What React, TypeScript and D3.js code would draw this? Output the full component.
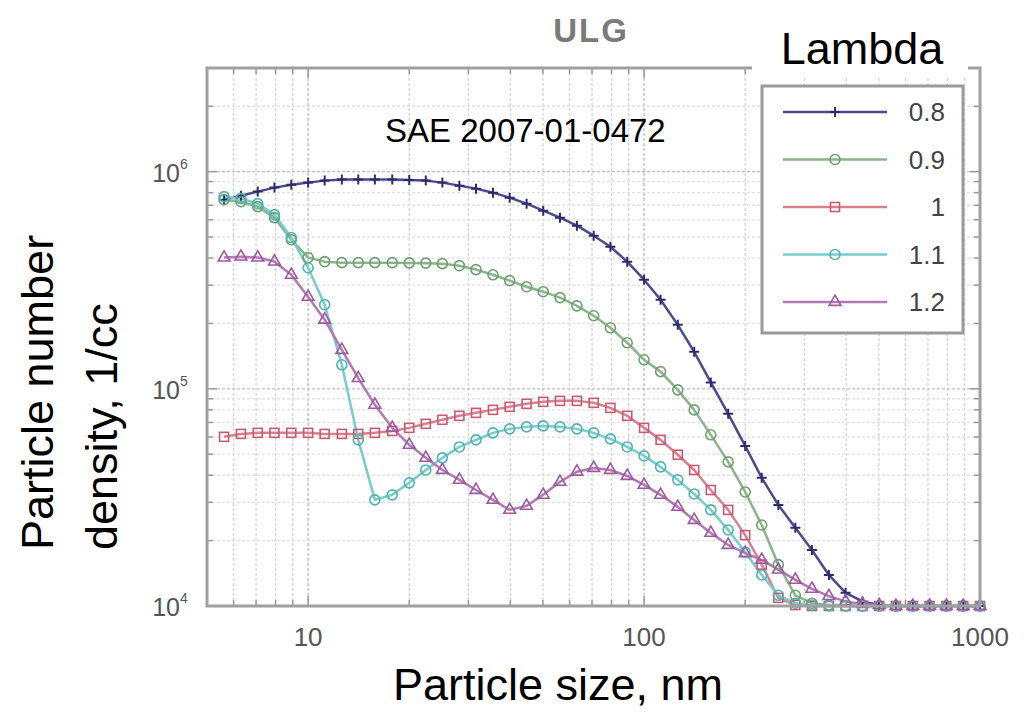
import React from 'react';
import * as d3 from 'd3';

// Particle size (nm)
const sizes = [5.62, 6.31, 7.08, 7.94, 8.91, 10, 11.2, 12.6, 14.1, 15.8, 17.8, 20, 22.4, 25.1, 28.2, 31.6, 35.5, 39.8, 44.7, 50.1, 56.2, 63.1, 70.8, 79.4, 89.1, 100, 112, 126, 141, 158, 178, 200, 224, 251, 282, 316, 355, 398, 447, 501, 562, 631, 708, 794, 891, 1000];

// Particle number density (1/cc) per lambda
const lambda08 = [743000, 775000, 809000, 844000, 871000, 890000, 909000, 919000, 921000, 921000, 919000, 915000, 909000, 890000, 862000, 835000, 800000, 759000, 712000, 661000, 614000, 564000, 507000, 451000, 385000, 318000, 257000, 197000, 148000, 107000, 76700, 54600, 38900, 29200, 22900, 18100, 13900, 11500, 10500, 10100, 10000, 10000, 10000, 10000, 10000, 10000];
const lambda09 = [743000, 727000, 690000, 614000, 486000, 402000, 385000, 381000, 381000, 381000, 381000, 380000, 379000, 377000, 369000, 354000, 335000, 315000, 295000, 280000, 263000, 241000, 217000, 191000, 163000, 136000, 120000, 98900, 80000, 61400, 46100, 33500, 23600, 15500, 11200, 10300, 10100, 10000, 10000, 10000, 10000, 10000, 10000, 10000, 10000, 10000];
const lambda10 = [60100, 62000, 62700, 62700, 62700, 62700, 62000, 62000, 62000, 62700, 64000, 66100, 69000, 72000, 75100, 77500, 80000, 82600, 85300, 87100, 88000, 88000, 86200, 81700, 75100, 66100, 58200, 49700, 42300, 34200, 27700, 21200, 15500, 10900, 10100, 10000, 10000, 10000, 10000, 10000, 10000, 10000, 10000, 10000, 10000, 10000];
const lambda11 = [767000, 751000, 712000, 634000, 497000, 361000, 244000, 129000, 58200, 30800, 32500, 36900, 42300, 48100, 54000, 58200, 62700, 65400, 66800, 67500, 66800, 65400, 62700, 58800, 54000, 49100, 43700, 38100, 32800, 27700, 22400, 17700, 13900, 11200, 10300, 10100, 10000, 10000, 10000, 10000, 10000, 10000, 10000, 10000, 10000, 10000];
const lambda12 = [402000, 406000, 402000, 385000, 335000, 265000, 208000, 151000, 112000, 84400, 66100, 55200, 48100, 42300, 38100, 34200, 30800, 27700, 28900, 32500, 37300, 41500, 43200, 42300, 39700, 36100, 32500, 28600, 24900, 21700, 19100, 17500, 16300, 14700, 13200, 12000, 11100, 10500, 10200, 10100, 10000, 10000, 10000, 10000, 10000, 10000];

const seriesNames = ['0.8', '0.9', '1', '1.1', '1.2'];
const seriesValues = [lambda08, lambda09, lambda10, lambda11, lambda12];
const xTickValues = [10, 100, 1000];
const yTickExponents = [4, 5, 6];

const lineColors = ['#4a4a8c', '#8ab58a', '#d88090', '#78cccc', '#b478b4'];
const markerColors = ['#2c2c6c', '#6f9f70', '#c85a72', '#4fb3b3', '#9c5a9e'];
const markerKinds = ['plus', 'circle', 'square', 'circle', 'triangle'];

const FONT = '"Liberation Sans", Arial, Helvetica, sans-serif';

function Marker({ kind, cx, cy, color }: { kind: string; cx: number; cy: number; color: string }) {
  if (kind === 'plus') {
    return (
      <path d={`M${cx - 5},${cy}H${cx + 5}M${cx},${cy - 5}V${cy + 5}`} stroke={color} strokeWidth={2} fill="none" />
    );
  }
  if (kind === 'circle') {
    return <circle cx={cx} cy={cy} r={5} fill="none" stroke={color} strokeWidth={1.6} />;
  }
  if (kind === 'square') {
    return <rect x={cx - 4.5} y={cy - 4.5} width={9} height={9} fill="none" stroke={color} strokeWidth={1.6} />;
  }
  const p = d3.symbol(d3.symbolTriangle, 60)() as string;
  return <path d={p} transform={`translate(${cx},${cy})`} fill="none" stroke={color} strokeWidth={1.6} />;
}

export default function App() {
  const W = 1024;
  const H = 724;
  const left = 207, right = 980, top = 68, bottom = 606;

  const x = d3.scaleLog().domain([5, 1000]).range([left, right]);
  const y = d3.scaleLog().domain([1e4, 3e6]).range([bottom, top]);

  const xGrid: number[] = [];
  for (const dec of [1, 10, 100]) {
    for (let k = 1; k <= 9; k++) {
      const v = dec * k;
      if (v > 5 && v <= 1000) xGrid.push(v);
    }
  }
  xGrid.push(1000);
  const yGrid: number[] = [];
  for (const dec of [1e4, 1e5, 1e6]) {
    for (let k = 1; k <= 9; k++) {
      const v = dec * k;
      if (v >= 1e4 && v < 3e6) yGrid.push(v);
    }
  }

  const isMajor = (v: number) => Math.abs(Math.log10(v) - Math.round(Math.log10(v))) < 1e-9;

  const lineGen = d3
    .line<number>()
    .x((_, i) => x(sizes[i]))
    .y((d) => y(d));

  const legendX0 = 762, legendX1 = 963, legendY0 = 86, legendY1 = 333;
  const legendRowY = (i: number) => 112 + i * 47.5;

  return (
    <div style={{ position: 'absolute', left: 0, top: 0, width: W, height: H, background: '#fff' }}>
      <svg width={W} height={H} viewBox={`0 0 ${W} ${H}`} style={{ display: 'block', fontFamily: FONT }}>
        <rect x={0} y={0} width={W} height={H} fill="#fff" />

        {/* grid */}
        {xGrid.map((v) => (
          <line
            key={'gx' + v}
            x1={x(v)}
            x2={x(v)}
            y1={top}
            y2={bottom}
            stroke={isMajor(v) ? '#c0c0c0' : '#d8d8d8'}
            strokeWidth={1.4}
            strokeDasharray="3,2"
          />
        ))}
        {yGrid.map((v) => (
          <line
            key={'gy' + v}
            x1={left}
            x2={right}
            y1={y(v)}
            y2={y(v)}
            stroke={isMajor(v) ? '#c0c0c0' : '#e2e2e2'}
            strokeWidth={1.3}
            strokeDasharray="3,2"
          />
        ))}

        {/* ticks inside the box */}
        {xGrid.map((v) => {
          const len = isMajor(v) ? 10 : 6;
          return (
            <g key={'tx' + v} stroke="#999" strokeWidth={1.5}>
              <line x1={x(v)} x2={x(v)} y1={bottom} y2={bottom - len} />
              <line x1={x(v)} x2={x(v)} y1={top} y2={top + len} />
            </g>
          );
        })}
        {yGrid.map((v) => {
          const len = isMajor(v) ? 10 : 6;
          return (
            <g key={'ty' + v} stroke="#999" strokeWidth={1.5}>
              <line x1={left} x2={left + len} y1={y(v)} y2={y(v)} />
              <line x1={right} x2={right - len} y1={y(v)} y2={y(v)} />
            </g>
          );
        })}

        {/* series lines */}
        {seriesValues.map((vals, si) => (
          <path
            key={'l' + si}
            d={lineGen(vals) as string}
            fill="none"
            stroke={lineColors[si]}
            strokeWidth={2.5}
            strokeLinejoin="round"
          />
        ))}
        {/* markers */}
        {seriesValues.map((vals, si) => (
          <g key={'m' + si}>
            {vals.map((v, i) => (
              <Marker key={i} kind={markerKinds[si]} cx={x(sizes[i])} cy={y(v)} color={markerColors[si]} />
            ))}
          </g>
        ))}

        {/* axes box */}
        <rect x={left} y={top} width={right - left} height={bottom - top} fill="none" stroke="#a0a0a0" strokeWidth={3} />

        {/* x tick labels */}
        {xTickValues.map((v) => (
          <text key={'xl' + v} x={x(v)} y={646} textAnchor="middle" fontSize={26} fill="#555">
            {d3.format('d')(v)}
          </text>
        ))}
        {/* y tick labels */}
        {yTickExponents.map((e) => (
          <g key={'yl' + e}>
            <text x={180} y={y(Math.pow(10, e)) + 10} textAnchor="end" fontSize={25} fill="#555">
              10
            </text>
            <text x={180} y={y(Math.pow(10, e)) - 3} fontSize={14} fill="#555">
              {e}
            </text>
          </g>
        ))}

        {/* title ULG */}
        <text x={591} y={42} textAnchor="middle" fontSize={33} fontWeight="bold" fill="#7a7a7a" letterSpacing={2}>
          ULG
        </text>

        {/* annotation */}
        <text x={385} y={142} fontSize={33} fill="#000">
          SAE 2007-01-0472
        </text>

        {/* Lambda label with white backing */}
        <rect x={752} y={18} width={216} height={58} fill="#fff" />
        <text x={862} y={64} textAnchor="middle" fontSize={45} fill="#000">
          Lambda
        </text>

        {/* legend */}
        <rect x={legendX0} y={legendY0} width={legendX1 - legendX0} height={legendY1 - legendY0} fill="#fff" stroke="#9a9a9a" strokeWidth={3} />
        {seriesNames.map((name, i) => {
          const ly = legendRowY(i);
          return (
            <g key={'lg' + i}>
              <line x1={783} x2={887} y1={ly} y2={ly} stroke={lineColors[i]} strokeWidth={2.5} />
              <Marker kind={markerKinds[i]} cx={835} cy={ly} color={markerColors[i]} />
              <text x={945} y={ly + 9} textAnchor="end" fontSize={26} fill="#444">
                {name}
              </text>
            </g>
          );
        })}

        {/* axis labels */}
        <text x={558} y={700} textAnchor="middle" fontSize={45} fill="#000">
          Particle size, nm
        </text>
        <text transform="translate(53,550) rotate(-90)" textAnchor="start" fontSize={45} fill="#000">
          Particle number
        </text>
        <text transform="translate(117,550) rotate(-90)" textAnchor="start" fontSize={45} fill="#000">
          density, 1/cc
        </text>
      </svg>
    </div>
  );
}
